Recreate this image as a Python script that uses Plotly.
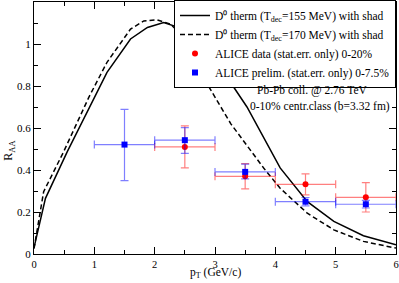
import plotly.graph_objects as go

# Theory curves
pt_155 = [0, 0.19, 0.55, 0.94, 1.21, 1.60, 1.88, 2.15, 2.48, 2.70, 3.09, 3.53, 3.86, 4.08, 4.53, 4.97, 5.46, 6.0]
raa_155 = [0.03, 0.265, 0.486, 0.708, 0.865, 1.024, 1.079, 1.102, 1.071, 1.016, 0.889, 0.70, 0.525, 0.41, 0.249, 0.155, 0.087, 0.044]

pt_170 = [0, 0.16, 0.49, 0.91, 1.21, 1.60, 1.82, 2.04, 2.26, 2.54, 2.70, 2.87, 3.26, 3.59, 3.81, 4.08, 4.53, 4.97, 5.46, 6.0]
raa_170 = [0.025, 0.297, 0.486, 0.747, 0.913, 1.071, 1.11, 1.115, 1.095, 1.016, 0.929, 0.81, 0.621, 0.494, 0.408, 0.313, 0.194, 0.115, 0.06, 0.028]

# ALICE data 0-20%
red_pt = [2.5, 3.5, 4.5, 5.5]
red_raa = [0.51, 0.37, 0.332, 0.27]
red_err = [0.10, 0.06, 0.05, 0.07]
red_xerr = [0.5, 0.5, 0.5, 0.5]

# ALICE prelim 0-7.5%
blue_pt = [1.5, 2.5, 3.5, 4.5, 5.5]
blue_raa = [0.521, 0.542, 0.391, 0.249, 0.237]
blue_err_plus = [0.168, 0.06, 0.037, 0.02, 0.018]
blue_err_minus = [0.172, 0.063, 0.033, 0.02, 0.018]
blue_xerr = [0.5, 0.5, 0.5, 0.5, 0.5]

FONT = "Liberation Serif"

fig = go.Figure()
fig.add_trace(go.Scatter(x=pt_155, y=raa_155, mode="lines",
                         line=dict(color="black", width=1.5),
                         name="D⁰ therm (T<sub>dec</sub>=155 MeV) with shad"))
fig.add_trace(go.Scatter(x=pt_170, y=raa_170, mode="lines",
                         line=dict(color="black", width=1.5, dash="5px,3px"),
                         name="D⁰ therm (T<sub>dec</sub>=170 MeV) with shad"))
fig.add_trace(go.Scatter(x=red_pt, y=red_raa, mode="markers",
                         marker=dict(color="red", size=6, symbol="circle"),
                         error_y=dict(type="data", array=red_err, color="rgba(255,0,0,0.5)", thickness=1.2, width=4),
                         error_x=dict(type="data", array=red_xerr, color="rgba(255,0,0,0.5)", thickness=1.2, width=4),
                         name="ALICE data (stat.err. only) 0-20%"))
fig.add_trace(go.Scatter(x=blue_pt, y=blue_raa, mode="markers",
                         marker=dict(color="blue", size=6, symbol="square"),
                         error_y=dict(type="data", symmetric=False, array=blue_err_plus, arrayminus=blue_err_minus,
                                      color="rgba(0,0,255,0.5)", thickness=1.2, width=4),
                         error_x=dict(type="data", array=blue_xerr, color="rgba(0,0,255,0.5)", thickness=1.2, width=4),
                         name="ALICE prelim. (stat.err. only) 0-7.5%"))

axis_common = dict(showline=True, linecolor="black", linewidth=1, mirror="ticks",
                   ticks="inside", ticklen=7, tickcolor="black", tickwidth=1,
                   showgrid=False, zeroline=False)

fig.update_xaxes(range=[0, 6], tickvals=[0, 1, 2, 3, 4, 5, 6],
                 tickfont=dict(family=FONT, size=10.5, color="black"),
                 minor=dict(ticks="inside", dtick=0.5, ticklen=4, tickcolor="black", showgrid=False),
                 **axis_common)
fig.update_yaxes(range=[0, 1.2], tickvals=[0, 0.2, 0.4, 0.6, 0.8, 1.0], ticktext=["0", "0.2", "0.4", "0.6", "0.8", "1"],
                 tickfont=dict(family=FONT, size=11, color="black"),
                 minor=dict(ticks="inside", dtick=0.1, ticklen=4, tickcolor="black", showgrid=False),
                 **axis_common)

fig.add_annotation(text="Pb-Pb coll. @ 2.76 TeV", x=4.62, y=0.78, xref="x", yref="y",
                   showarrow=False, font=dict(family=FONT, size=11.5, color="black"))
fig.add_annotation(text="0-10% centr.class (b=3.32 fm)", x=4.74, y=0.703, xref="x", yref="y",
                   showarrow=False, font=dict(family=FONT, size=11.5, color="black"))
fig.add_annotation(text="R<sub>AA</sub>", x=-0.068, y=0.494, xref="paper", yref="y",
                   xanchor="center", yanchor="middle",
                   showarrow=False, textangle=-90, font=dict(family=FONT, size=12, color="black"))
fig.add_annotation(text="p<sub>T</sub> (GeV/c)", x=0.5, y=-0.112, xref="paper", yref="paper",
                   xanchor="center", yanchor="bottom", showarrow=False,
                   font=dict(family=FONT, size=11.5, color="black"))

fig.update_layout(
    width=399, height=283,
    margin=dict(l=33.5, r=3.3, t=1, b=28.7),
    paper_bgcolor="white", plot_bgcolor="white",
    showlegend=True,
    legend=dict(x=1, y=1.004, xanchor="right", yanchor="top",
                bgcolor="white", bordercolor="black", borderwidth=1,
                font=dict(family=FONT, size=11.5, color="black"),
                tracegroupgap=0, itemwidth=30),
)

fig.write_html("out.html", config={"displayModeBar": False},
               post_script="document.body.style.margin='0';document.body.style.padding='0';")
